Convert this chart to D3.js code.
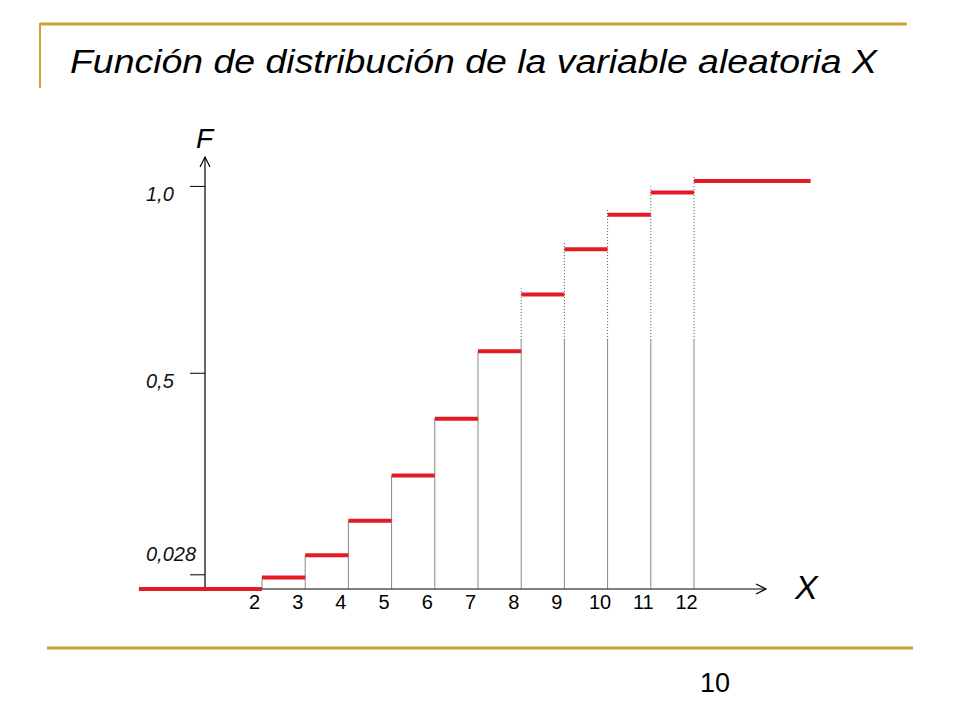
<!DOCTYPE html>
<html>
<head>
<meta charset="utf-8">
<script src="https://cdn.jsdelivr.net/npm/d3@7"></script>
<style>
  body { margin: 0; background: #fff; }
  text { font-family: "Liberation Sans", Arial, sans-serif; }
</style>
</head>
<body>
<div id="chart"></div>
<script>
const width = 960;
const height = 720;

// sum of two dice: values and cumulative probability F(x)
const xValues = [2, 3, 4, 5, 6, 7, 8, 9, 10, 11, 12];
const cdfValues = [0.028, 0.083, 0.167, 0.278, 0.417, 0.583, 0.722, 0.833, 0.917, 0.972, 1.0];
// the step for x < 2 and after 12 run out to these x values
const leftEnd = -0.85;
const rightEnd = 14.7;
// y ticks as placed on the slide
const yTickPos = [0.036, 0.53, 0.988];
const yTickLabels = ["0,028", "0,5", "1,0"];

const gold = "#cca432";
const red = "#e31b23";

const x = d3.scaleLinear().domain([2, 12]).range([262, 694]);
const y = d3.scaleLinear().domain([0, 1]).range([589, 181]);

const originX = 205;
const xAxisEnd = 766;
const yAxisTop = 157;

const svg = d3.select("#chart")
  .append("svg")
  .attr("width", width)
  .attr("height", height);

// slide decoration
svg.append("line")
  .attr("x1", 40).attr("x2", 907).attr("y1", 24).attr("y2", 24)
  .attr("stroke", gold).attr("stroke-width", 3);
svg.append("line")
  .attr("x1", 40).attr("x2", 40).attr("y1", 23).attr("y2", 88)
  .attr("stroke", gold).attr("stroke-width", 2);
svg.append("line")
  .attr("x1", 47).attr("x2", 913).attr("y1", 648).attr("y2", 648)
  .attr("stroke", gold).attr("stroke-width", 3);

svg.append("text")
  .attr("x", 70).attr("y", 73)
  .attr("font-size", "34px")
  .attr("font-style", "italic")
  .attr("textLength", 807)
  .attr("lengthAdjust", "spacingAndGlyphs")
  .text("Función de distribución de la variable aleatoria X");

svg.append("text")
  .attr("x", 715).attr("y", 692)
  .attr("text-anchor", "middle")
  .attr("font-size", "27px")
  .text("10");

// vertical guides from the axis to each jump
const guides = svg.append("g");
xValues.forEach((v, i) => {
  const top = cdfValues[i];
  const solidTop = Math.min(top, 0.61);
  guides.append("line")
    .attr("x1", x(v)).attr("x2", x(v))
    .attr("y1", y(0)).attr("y2", y(solidTop))
    .attr("stroke", "#888").attr("stroke-width", 1);
  if (top > 0.61) {
    guides.append("line")
      .attr("x1", x(v)).attr("x2", x(v))
      .attr("y1", y(solidTop)).attr("y2", y(top) - 6)
      .attr("stroke", "#555").attr("stroke-width", 1)
      .attr("stroke-dasharray", "1,2");
  }
});

// axes
const axisG = svg.append("g").attr("stroke", "#000").attr("stroke-width", 1.2).attr("fill", "none");
axisG.append("line")
  .attr("x1", originX).attr("x2", xAxisEnd)
  .attr("y1", y(0)).attr("y2", y(0));
axisG.append("path")
  .attr("d", `M${xAxisEnd - 10},${y(0) - 5}L${xAxisEnd},${y(0)}L${xAxisEnd - 10},${y(0) + 5}`);
axisG.append("line")
  .attr("x1", originX).attr("x2", originX)
  .attr("y1", y(0)).attr("y2", yAxisTop);
axisG.append("path")
  .attr("d", `M${originX - 5},${yAxisTop + 10}L${originX},${yAxisTop}L${originX + 5},${yAxisTop + 10}`);

const yAxis = svg.append("g")
  .attr("transform", `translate(${originX},0)`)
  .call(d3.axisLeft(y)
    .tickValues(yTickPos)
    .tickFormat((d, i) => yTickLabels[i])
    .tickSize(15));
yAxis.select(".domain").remove();
yAxis.selectAll(".tick line").attr("stroke", "#000");
yAxis.selectAll(".tick text")
  .attr("text-anchor", "start")
  .attr("x", 146 - originX)
  .attr("dy", (d, i) => i === 0 ? "-0.7em" : "0.75em")
  .attr("font-size", "20px")
  .attr("font-style", "italic")
  .attr("font-family", "Liberation Sans, Arial, sans-serif")
  .attr("fill", "#111");

const xAxis = svg.append("g")
  .attr("transform", `translate(0,${y(0)})`)
  .call(d3.axisBottom(x)
    .tickValues(xValues)
    .tickFormat(d3.format("d"))
    .tickSize(0)
    .tickPadding(6));
xAxis.select(".domain").remove();
xAxis.selectAll(".tick text")
  .attr("dx", -8)
  .attr("font-size", "20px")
  .attr("font-family", "Liberation Sans, Arial, sans-serif")
  .attr("fill", "#000");

// step function
const starts = [leftEnd].concat(xValues);
const ends = xValues.concat([rightEnd]);
const levels = [0].concat(cdfValues);

svg.append("g")
  .selectAll("line")
  .data(levels)
  .enter()
  .append("line")
  .attr("x1", (d, i) => x(starts[i]))
  .attr("x2", (d, i) => x(ends[i]))
  .attr("y1", d => y(d))
  .attr("y2", d => y(d))
  .attr("stroke", red)
  .attr("stroke-width", 4);

// axis names
svg.append("text")
  .attr("x", 196).attr("y", 148)
  .attr("font-size", "28px")
  .attr("font-style", "italic")
  .text("F");

svg.append("text")
  .attr("x", 795).attr("y", 599)
  .attr("font-size", "34px")
  .attr("font-style", "italic")
  .text("X");
</script>
</body>
</html>
